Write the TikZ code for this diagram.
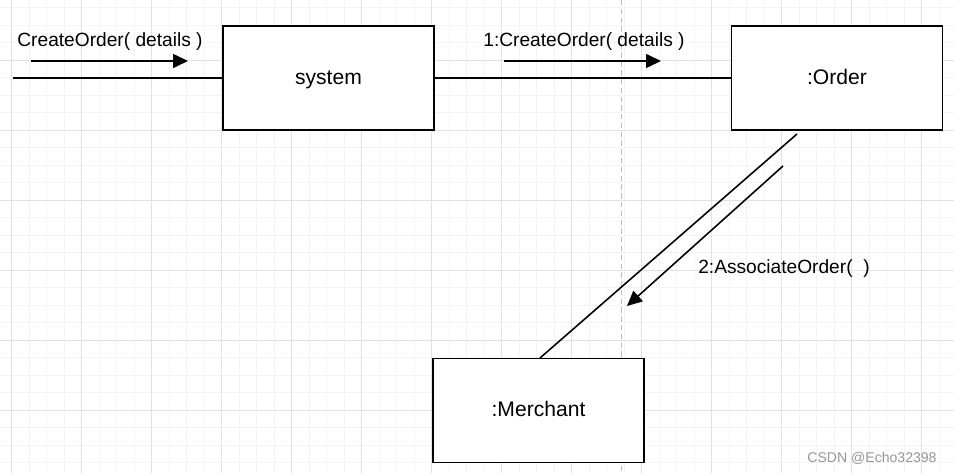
\documentclass[tikz,border=0pt]{standalone}
\usepackage{fontspec}
\setmainfont{Liberation Sans}
\usetikzlibrary{arrows.meta, positioning}
\definecolor{gminor}{RGB}{244, 244, 244}
\definecolor{gmajor}{RGB}{226, 226, 226}
\definecolor{gdash}{RGB}{190, 190, 190}
\definecolor{wmark}{RGB}{150, 150, 150}

\begin{document}
\begin{tikzpicture}[x=0.02cm, y=-0.02cm,
  objbox/.style={rectangle, draw=black, line width=1.1pt, fill=white,
                 minimum width=4.22cm, minimum height=2.08cm, inner sep=0pt,
                 text height=0.93em, text depth=0.21em,
                 align=center, font=\fontsize{12}{14}\selectfont},
  link/.style={line width=0.9pt, black},
  msg/.style={-{Triangle[length=0.3cm, width=0.28cm]}, line width=0.9pt, black},
  msglabel/.style={inner sep=0pt, font=\fontsize{10.9}{13}\selectfont}
]
\useasboundingbox (0,0) rectangle (954,473);
\fill[white] (0,0) rectangle (954,473);

% grid
\foreach \gx in {0,...,54}
  \draw[gminor, line width=0.5pt] ({-5.8+17.5*\gx},0) -- ({-5.8+17.5*\gx},473);
\foreach \gy in {0,...,27}
  \draw[gminor, line width=0.5pt] (0,{7.5+17.5*\gy}) -- (954,{7.5+17.5*\gy});
\foreach \gx in {0,...,13}
  \draw[gmajor, line width=0.5pt] ({11.7+70*\gx},0) -- ({11.7+70*\gx},473);
\foreach \gy in {0,...,6}
  \draw[gmajor, line width=0.5pt] (0,{60+70*\gy}) -- (954,{60+70*\gy});
\draw[gdash, line width=0.6pt, dash pattern=on 3pt off 2pt] (621.5,0) -- (621.5,473);

% objects
\node[objbox] (sys) at (328.5,78)   {system};
\node[objbox] (ord) at (837,78)     {:Order};
\node[objbox] (mer) at (538.5,410.5) {:Merchant};

% links
\coordinate (ent) at (13,78);
\coordinate (ordlow) at (797,134);
\coordinate (merup) at (540,358);
\draw[link] (ent) -- (sys.west);
\draw[link] (sys.east) -- (ord.west);
\draw[link] (ordlow) -- (merup);

% messages
\coordinate (m1a) at (31,61);   \coordinate (m1b) at (188,61);
\coordinate (m2a) at (504,61);  \coordinate (m2b) at (661,61);
\coordinate (m3a) at (783,166); \coordinate (m3b) at (627,306);
\draw[msg] (m1a) -- (m1b);
\draw[msg] (m2a) -- (m2b);
\draw[msg] (m3a) -- (m3b);
\node[msglabel] (l1) at (110,42)  {CreateOrder( details )};
\node[msglabel] (l2) at (584,42)  {1:CreateOrder( details )};
\node[msglabel] (l3) at (784,269) {2:AssociateOrder(~~)};

\node[inner sep=0pt, text=wmark, font=\fontsize{8}{10}\selectfont] (wm) at (872,458) {CSDN @Echo32398};
\end{tikzpicture}
\end{document}
